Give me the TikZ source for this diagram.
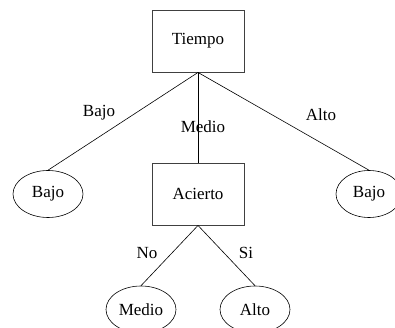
\documentclass[tikz,border=0pt]{standalone}
\usepackage{fontspec}
\setmainfont{Liberation Serif}
\usetikzlibrary{shapes.geometric}
\begin{document}
\begin{tikzpicture}[x=1pt,y=-1pt,
  every node/.style={font=\fontsize{17}{20}\selectfont},
  attr/.style={draw=black!75,line width=0.9pt,rectangle,minimum width=92pt,minimum height=62pt,inner sep=0pt},
  leaf/.style={draw=black,line width=0.6pt,ellipse,minimum width=70pt,minimum height=47pt,inner sep=0pt},
  branch/.style={draw=black,line width=0.6pt},
  lbl/.style={inner sep=0pt}]
\useasboundingbox (0,0) rectangle (395,328);
% decision nodes
\node[attr] (tiempo) at (198,41) {Tiempo};
\node[attr] (acierto) at (198,194) {Acierto};
% leaves
\node[leaf] (bajoL) at (48,194) {Bajo};
\node[leaf,minimum width=66pt] (bajoR) at (369,194) {Bajo};
\node[leaf] (medio) at (141,309.5) {Medio};
\node[leaf] (alto) at (255,309.5) {Alto};
% branches
\draw[branch] (tiempo.south) -- (bajoL.north);
\draw[branch] (tiempo.south) -- (acierto.north);
\draw[branch] (tiempo.south) -- (bajoR.north);
\draw[branch] (acierto.south) -- (medio.north);
\draw[branch] (acierto.south) -- (alto.north);
% branch labels
\node[lbl] (lb1) at (99,113) {Bajo};
\node[lbl] (lb2) at (203,127) {Medio};
\node[lbl] (lb3) at (321,115) {Alto};
\node[lbl] (lb4) at (147,253) {No};
\node[lbl] (lb5) at (246,253) {Si};
\end{tikzpicture}
\end{document}
